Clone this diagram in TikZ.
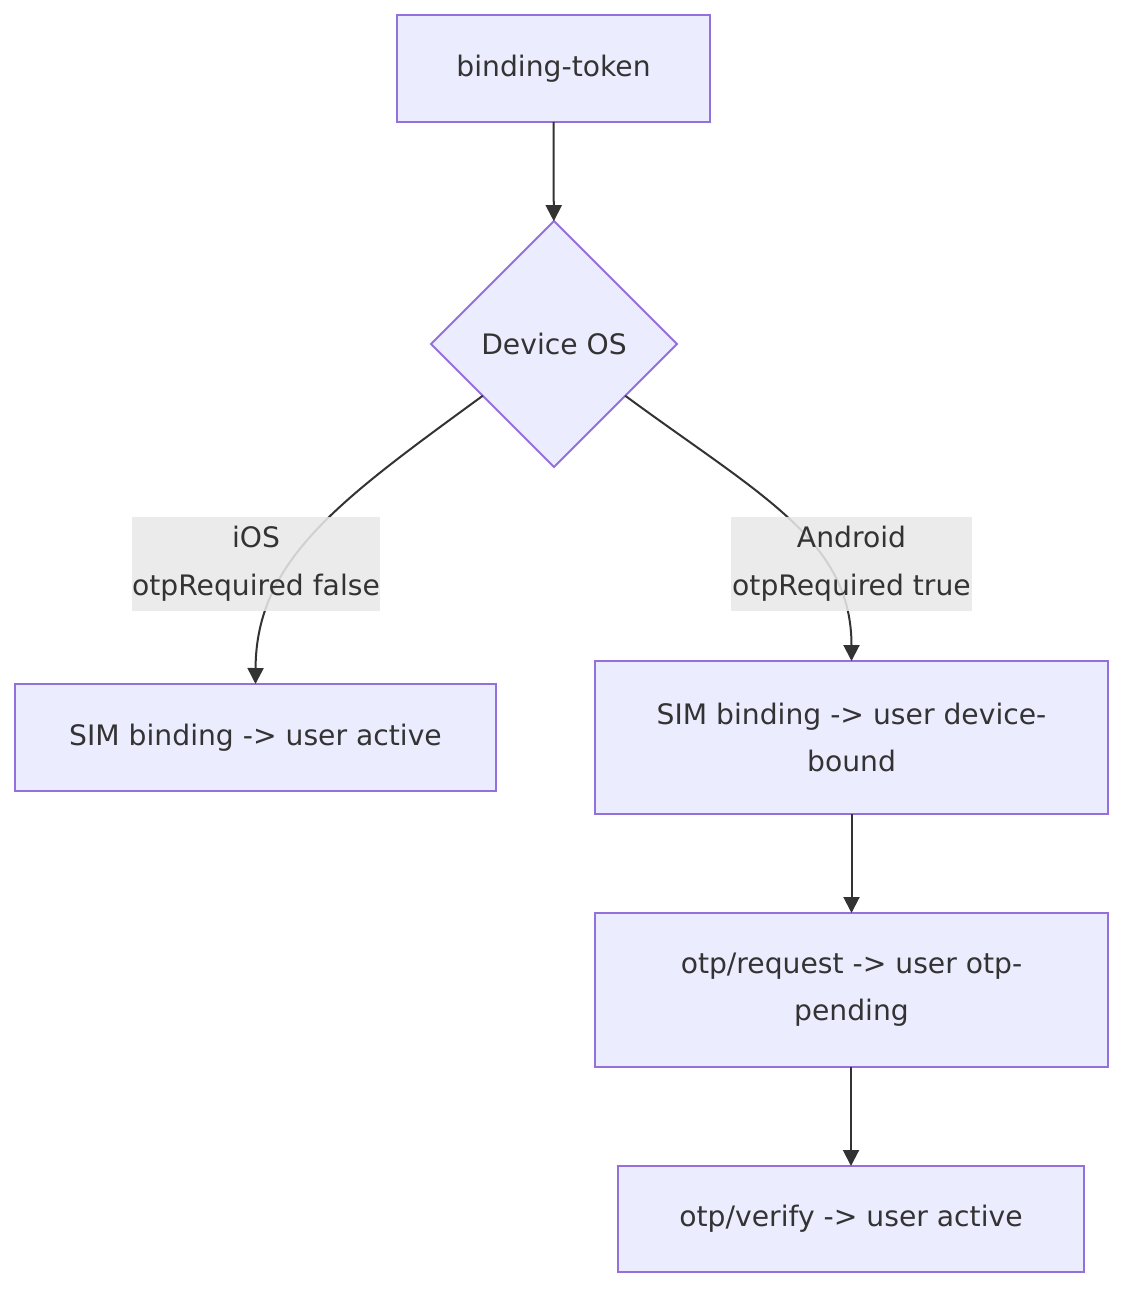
\documentclass[tikz,border=0pt]{standalone}
\usepackage{fontspec}
\setmainfont{DejaVu Sans}
\usetikzlibrary{shapes.geometric,arrows.meta}
\definecolor{nodefill}{HTML}{ECECFF}
\definecolor{nodeline}{HTML}{9370DB}
\definecolor{edgecol}{HTML}{333333}
\definecolor{lblbg}{HTML}{E8E8E8}
\begin{document}
\begin{tikzpicture}[x=1pt,y=-1pt,
  box/.style={draw=nodeline,fill=nodefill,line width=2pt,inner sep=0pt,outer sep=0pt,
    align=center,text=edgecol,font=\fontsize{28.2}{47}\selectfont},
  lbl/.style={fill=lblbg,fill opacity=0.87,text opacity=1,inner sep=0pt,outer sep=0pt,
    align=center,text=edgecol,font=\fontsize{28.2}{48}\selectfont,minimum height=94pt},
  edge/.style={draw=edgecol,line width=2pt,-{Triangle[length=16pt,width=16pt]}}]
\useasboundingbox (0,0) rectangle (1140,1306);
\node[box,minimum width=313pt,minimum height=107pt] (tok) at (553.5,68.5) {binding-token};
\node[box,diamond,minimum width=246pt,minimum height=246pt] (dev) at (554,344) {Device OS};
\node[box,minimum width=481pt,minimum height=107pt] (ios) at (255.5,737.5) {SIM binding -> user active};
\node[box,minimum width=513pt,minimum height=153pt] (bound) at (851.5,737.5) {SIM binding -> user device-\\bound};
\node[box,minimum width=513pt,minimum height=154pt] (req) at (851.5,990) {otp/request -> user otp-\\pending};
\node[box,minimum width=466pt,minimum height=106pt] (ver) at (851,1219) {otp/verify -> user active};
\draw[edge] (tok) -- (dev);
\draw[edge] (dev.216) .. controls (340,500) and (256,560) .. (ios.north);
\draw[edge] (dev.-36) .. controls (760,495) and (851.5,540) .. (bound.north);
\draw[edge] (bound) -- (req);
\draw[edge] (req.south -| ver.north) -- (ver.north);
\node[lbl,minimum width=248pt] (l1) at (256,564) {iOS\\otpRequired false};
\node[lbl,minimum width=241pt] (l2) at (851.5,564) {Android\\otpRequired true};
\end{tikzpicture}
\end{document}
